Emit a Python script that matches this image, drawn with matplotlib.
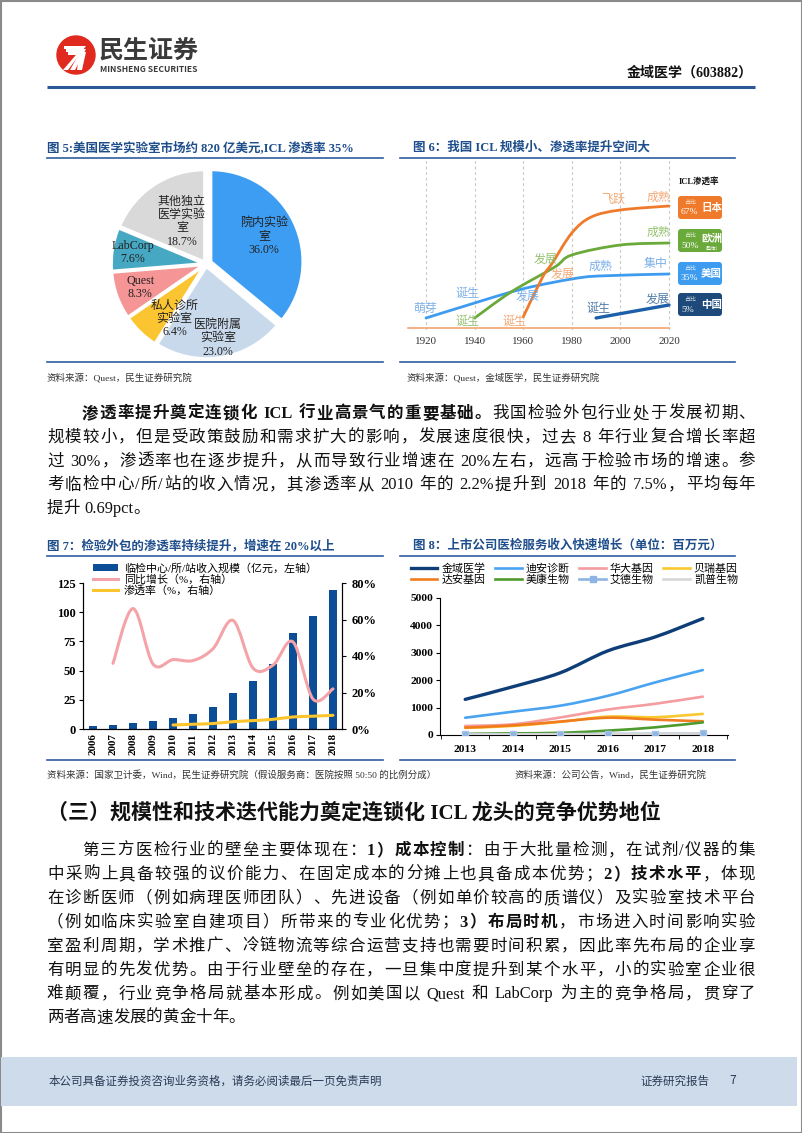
import matplotlib
matplotlib.use("Agg")
import matplotlib.pyplot as plt
import numpy as np
from matplotlib.lines import Line2D
from matplotlib.patches import Circle, FancyBboxPatch, PathPatch, Polygon, Rectangle
from matplotlib.path import Path

W, H = 802, 1133
SERIF = ["Liberation Serif", "Noto Sans CJK SC"]
SANS = ["Noto Sans CJK SC", "DejaVu Sans"]
TITLE_BLUE = "#1f4e8c"
RULE_BLUE = "#2e5c9e"
TEXT = "#111111"

# ---- 图5: US lab market split (%)
lab_names = ["院内实验\n室", "医院附属\n实验室", "私人诊所\n实验室", "Quest", "LabCorp", "其他独立\n医学实验\n室"]
lab_share = [36.0, 23.0, 6.4, 8.3, 7.6, 18.7]
lab_colors = ["#3d9df3", "#c9d9ec", "#fbc531", "#f59595", "#47a8c4", "#d9d9d9"]

# ---- 图6: schematic ICL development curves (year, relative level)
icl_years = [1920, 1940, 1960, 1980, 2000, 2020]
us_x = [1920, 1940, 1955, 1965, 1980, 1991, 2020]
us_y = [12, 27, 38, 44, 51, 54, 56]
eu_x = [1940, 1955, 1973, 1980, 2000, 2020]
eu_y = [12, 38, 63, 75, 85, 87]
jp_x = [1960, 1968, 1972, 1980, 1988, 2000, 2020]
jp_y = [13, 53, 67, 97, 113, 120, 124]
cn_x = [1990, 2020]
cn_y = [12, 25]
stage_notes = [
    ("萌芽", 1919.6, 22, "#6fa8e6"), ("诞生", 1937, 37, "#6fa8e6"), ("发展", 1962, 34, "#6fa8e6"),
    ("成熟", 1992, 64, "#6fa8e6"), ("集中", 2014.7, 67, "#6fa8e6"),
    ("诞生", 1937, 9, "#8dbd63"), ("发展", 1969.4, 71, "#8dbd63"), ("成熟", 2015.5, 98, "#8dbd63"),
    ("诞生", 1956.6, 9, "#f3a06a"), ("发展", 1976.4, 56, "#f3a06a"), ("飞跃", 1997, 131, "#f3a06a"),
    ("成熟", 2015.5, 133, "#f3a06a"),
    ("诞生", 1991, 22, "#3f6f9f"), ("发展", 2015.5, 31, "#3f6f9f"),
]
pen_regions = ["日本", "欧洲", "美国", "中国"]
pen_shares = ["67%", "50%", "35%", "5%"]
pen_colors = ["#f07a2b", "#6aaa3a", "#3d9cf0", "#1d4a7a"]

# ---- 图7: ICL revenue (亿元), yoy growth (%), penetration (%)
years07 = ["2006", "2007", "2008", "2009", "2010", "2011", "2012",
           "2013", "2014", "2015", "2016", "2017", "2018"]
icl_revenue = [2.3, 3.0, 5.0, 6.6, 9.4, 13.0, 19.0, 30.6, 41.0, 56.0, 82.0, 97.0, 119.0]
yoy_growth = [np.nan, 36.0, 66.0, 35.6, 38.0, 37.5, 44.0, 59.5, 33.4, 35.0, 47.7, 16.4, 22.0]
penetration = [np.nan, np.nan, np.nan, np.nan, 2.2, 2.6, 3.0, 4.0, 4.6, 5.3, 6.6, 7.0, 7.5]

# ---- 图8: listed companies' lab-service revenue (百万元)
years08 = ["2013", "2014", "2015", "2016", "2017", "2018"]
company_names = ["金域医学", "迪安诊断", "华大基因", "贝瑞基因", "达安基因", "美康生物", "艾德生物", "凯普生物"]
company_rev = [
    [1300, 1760, 2270, 3070, 3580, 4250],
    [630, 850, 1070, 1430, 1920, 2370],
    [330, 390, 640, 930, 1140, 1400],
    [260, 330, 480, 670, 650, 770],
    [270, 350, 490, 630, 560, 500],
    [40, 60, 80, 160, 280, 460],
    [25, 28, 32, 38, 42, 55],
    [15, 20, 25, 30, 40, 60],
]
company_colors = ["#0e3d78", "#4aa3f0", "#f59ca0", "#f9c82e", "#f07c20", "#4e9a2e", "#8eb4e3", "#d6d6d6"]

para1 = [
    [("渗透率提升奠定连锁化 ICL 行业高景气的重要基础。", True), ("我国检验外包行业处于发展初期、", False)],
    [("规模较小，但是受政策鼓励和需求扩大的影响，发展速度很快，过去 8 年行业复合增长率超", False)],
    [("过 30%，渗透率也在逐步提升，从而导致行业增速在 20%左右，远高于检验市场的增速。参", False)],
    [("考临检中心/所/站的收入情况，其渗透率从 2010 年的 2.2%提升到 2018 年的 7.5%，平均每年", False)],
    [("提升 0.69pct。", False)],
]
para2 = [
    [("第三方医检行业的壁垒主要体现在：", False), ("1）成本控制", True), ("：由于大批量检测，在试剂/仪器的集", False)],
    [("中采购上具备较强的议价能力、在固定成本的分摊上也具备成本优势；", False), ("2）技术水平", True), ("，体现", False)],
    [("在诊断医师（例如病理医师团队）、先进设备（例如单价较高的质谱仪）及实验室技术平台", False)],
    [("（例如临床实验室自建项目）所带来的专业化优势；", False), ("3）布局时机", True), ("，市场进入时间影响实验", False)],
    [("室盈利周期，学术推广、冷链物流等综合运营支持也需要时间积累，因此率先布局的企业享", False)],
    [("有明显的先发优势。由于行业壁垒的存在，一旦集中度提升到某个水平，小的实验室企业很", False)],
    [("难颠覆，行业竞争格局就基本形成。例如美国以 Quest 和 LabCorp 为主的竞争格局，贯穿了", False)],
    [("两者高速发展的黄金十年。", False)],
]


def pt(px):
    return px * 0.72


def px_axes(x0, y0, x1, y1):
    ax = fig.add_axes([x0 / W, 1 - y1 / H, (x1 - x0) / W, (y1 - y0) / H])
    ax.set_facecolor("none")
    return ax


def smooth_path(xs, ys, k=1 / 6):
    pts = np.column_stack([xs, ys]).astype(float)
    verts, codes = [pts[0]], [Path.MOVETO]
    for i in range(len(pts) - 1):
        p0 = pts[i - 1] if i > 0 else pts[i]
        p1, p2 = pts[i], pts[i + 1]
        p3 = pts[i + 2] if i + 2 < len(pts) else pts[i + 1]
        verts += [p1 + (p2 - p0) * k, p2 - (p3 - p1) * k, p2]
        codes += [Path.CURVE4] * 3
    return Path(verts, codes)


def smooth_line(ax, xs, ys, color, lw, zorder=3):
    xs, ys = np.asarray(xs, float), np.asarray(ys, float)
    ok = ~np.isnan(ys)
    ax.add_patch(PathPatch(smooth_path(xs[ok], ys[ok]), fill=False, edgecolor=color,
                           lw=lw, capstyle="round", joinstyle="round", zorder=zorder))


fig = plt.figure(figsize=(W / 100, H / 100), dpi=100)
page = fig.add_axes([0, 0, 1, 1])
page.set_xlim(0, W)
page.set_ylim(H, 0)
page.axis("off")
renderer = fig.canvas.get_renderer()


def tokenize(segments):
    toks = []
    for text, bold in segments:
        buf = ""
        for ch in text:
            if ch == " ":
                if buf:
                    toks.append((buf, bold))
                    buf = ""
                toks.append((" ", bold))
            elif ord(ch) < 128:
                buf += ch
            else:
                if buf:
                    toks.append((buf, bold))
                    buf = ""
                toks.append((ch, bold))
        if buf:
            toks.append((buf, bold))
    return toks


def text_line(x0, y, segments, size_px, right=None, color=TEXT):
    toks = tokenize(segments)
    items = []
    for s, bold in toks:
        if s == " ":
            items.append((None, size_px * 0.25))
            continue
        t = page.text(0, y, s, fontsize=pt(size_px), fontweight="bold" if bold else "normal",
                      family=SERIF, va="baseline", ha="left", color=color)
        items.append((t, t.get_window_extent(renderer).width))
    gap = 0.0
    if right is not None and len(items) > 1:
        gap = (right - x0 - sum(w for _, w in items)) / (len(items) - 1)
    x = x0
    for t, w in items:
        if t is not None:
            t.set_x(x)
        x += w + gap


# ---------------- page frame, header, footer
page.add_patch(Rectangle((0.5, 0.5), W - 1, H - 1, fill=False, ec="#8a8a8a", lw=1.5))
page.add_patch(Circle((76, 55), 19, color="#e02a1f"))
for i in range(3):
    page.add_patch(Polygon([(63 + 7 * i, 70), (68 + 7 * i, 70), (86, 46 + 3 * i), (64 + 2 * i, 46 + 3 * i),
                            (64 + 2 * i, 49 + 3 * i), (81 - i, 49 + 3 * i)], closed=True, color="white", lw=0))
page.text(99, 51, "民生证券", fontsize=pt(25), fontweight="bold", family=SANS, color="#3a3a3a", va="center")
page.text(100, 69, "MINSHENG SECURITIES", fontsize=pt(8.5), fontweight="bold", family=SANS,
          color="#3a3a3a", va="center")
page.text(753, 73, "金域医学（603882）", fontsize=pt(14), fontweight="bold", family=SERIF, color=TEXT,
          ha="right", va="center")
page.plot([47, 755], [86.5, 86.5], color="#2b5797", lw=2.2, solid_capstyle="butt")

page.add_patch(Rectangle((1, 1057), W - 6, 49, color="#cddbeb", lw=0))
page.text(49, 1081, "本公司具备证券投资咨询业务资格，请务必阅读最后一页免责声明", fontsize=pt(11.5),
          family=SANS, color="#2b3b55", va="center")
page.text(640, 1081, "证券研究报告", fontsize=pt(11.5), family=SANS, color="#2b3b55", va="center")
page.text(729, 1081, "7", fontsize=pt(12), family=SANS, color="#2b3b55", va="center")


# ---------------- figure titles / rules / sources
def fig_frame(x0, x1, ytitle, yrule, ybottom, ysrc, title, source, src_x=None):
    page.text(x0 + (0 if x0 < 100 else 13), ytitle, title, fontsize=pt(12.5), fontweight="bold", family=SERIF,
              color=TITLE_BLUE, va="center")
    page.plot([x0, x1], [yrule, yrule], color=RULE_BLUE, lw=1.2)
    page.plot([x0, x1], [ybottom, ybottom], color=RULE_BLUE, lw=1.2)
    page.text(src_x if src_x else x0, ysrc, source, fontsize=pt(9.5), family=SERIF, color="#333333",
              va="center")


fig_frame(47, 383, 148, 158, 362, 378, "图 5:美国医学实验室市场约 820 亿美元,ICL 渗透率 35%",
          "资料来源：Quest，民生证券研究院")
fig_frame(400, 735, 148, 158, 362, 378, "图 6：我国 ICL 规模小、渗透率提升空间大",
          "资料来源：Quest，金域医学，民生证券研究院", src_x=407)
fig_frame(47, 383, 546, 556, 760, 775, "图 7：检验外包的渗透率持续提升，增速在 20%以上",
          "资料来源：国家卫计委，Wind，民生证券研究院（假设服务商：医院按照 50:50 的比例分成）")
fig_frame(400, 735, 546, 556, 760, 775, "图 8：上市公司医检服务收入快速增长（单位：百万元）",
          "资料来源：公司公告，Wind，民生证券研究院", src_x=515)

# ---------------- body text
for i, line in enumerate(para1):
    x0 = 82 if i == 0 else 47
    right = 755 if i < len(para1) - 1 else None
    text_line(x0, 418 + i * 23.8, line, 16.5, right)

page.text(47, 813, "（三）规模性和技术迭代能力奠定连锁化 ICL 龙头的竞争优势地位", fontsize=pt(21),
          fontweight="bold", family=SERIF, color=TEXT, va="center")

for i, line in enumerate(para2):
    x0 = 82 if i == 0 else 47
    right = 755 if i < len(para2) - 1 else None
    text_line(x0, 855 + i * 23.9, line, 16.5, right)

# ---------------- 图5 pie
ax5 = px_axes(105, 163, 307, 365)
wedges, _ = ax5.pie(lab_share, colors=lab_colors, startangle=90, counterclock=False,
                    explode=[0.06, 0.03, 0.03, 0.03, 0.03, 0.03],
                    wedgeprops=dict(edgecolor="white", linewidth=2))
ax5.set_xlim(-1.1, 1.1)
ax5.set_ylim(-1.1, 1.1)
ax5.set_aspect("equal")
label_r = [0.70, 0.82, 0.69, 0.76, 0.81, 0.53]
label_nudge = [0, 0, 14, 0, 0, -4]
start = 90.0
for name, share, r, nd in zip(lab_names, lab_share, label_r, label_nudge):
    mid = np.deg2rad(start - share * 3.6 / 2 + nd)
    start -= share * 3.6
    ax5.text(r * np.cos(mid), r * np.sin(mid), f"{name}\n{share:.1f}%", ha="center", va="center",
             fontsize=pt(12), family=SERIF, color="#222222", linespacing=1.15)

# ---------------- 图6 schematic
ax6 = px_axes(400, 160, 672, 330)
px_per_year = 2.43
ax6.set_xlim(1920 - 26 / px_per_year, 2020 + 3 / px_per_year)
ax6.set_ylim(0, 170)
for s in ["left", "right", "top"]:
    ax6.spines[s].set_visible(False)
ax6.spines["bottom"].set_position(("data", 2))
ax6.spines["bottom"].set_bounds(1920 - 18 / px_per_year, 2020)
ax6.spines["bottom"].set_color("#f4a46e")
ax6.spines["bottom"].set_linewidth(1.2)
ax6.set_yticks([])
ax6.set_xticks(icl_years)
ax6.set_xticklabels([str(y) for y in icl_years], fontsize=pt(11), family=SERIF, color="#333333")
ax6.tick_params(axis="x", length=0, pad=pt(9))
ax6.grid(axis="x", color="#c8c8c8", lw=0.8, ls=(0, (2.5, 2.5)))
ax6.set_axisbelow(True)
smooth_line(ax6, us_x, us_y, "#3d9cf0", 2.0)
smooth_line(ax6, eu_x, eu_y, "#6aaa3a", 2.0)
smooth_line(ax6, jp_x, jp_y, "#f07a2b", 2.0)
smooth_line(ax6, cn_x, cn_y, "#1d5fa8", 2.4)
for txt, xx, yy, c in stage_notes:
    ax6.text(xx, yy, txt, fontsize=pt(12), family=SANS, color=c, ha="center", va="center", alpha=0.9)

page.text(679, 181, "ICL渗透率", fontsize=pt(8.5), fontweight="bold", family=SERIF, color="#111111",
          va="center")
box_tops = [196, 229, 262, 293]
for top, region, share, c in zip(box_tops, pen_regions, pen_shares, pen_colors):
    page.add_patch(FancyBboxPatch((680, top + 2), 40, 19, boxstyle="round,pad=2,rounding_size=3",
                                  fc=c, ec="none"))
    page.text(684, top + 6.5, "占比", fontsize=pt(6), family=SANS, color="white", va="center", alpha=0.85)
    page.text(681, top + 16.5, share, fontsize=pt(9.5), family=SERIF, color="white", va="center")
    page.text(711.5, top + (10 if region == "欧洲" else 12), region, fontsize=pt(10.5), fontweight="bold",
              family=SANS, color="white", ha="center", va="center")
    if region == "欧洲":
        page.text(711.5, top + 19, "（整体）", fontsize=pt(4.5), family=SANS, color="white", ha="center",
                  va="center")

# ---------------- 图7 bars + lines
ax7 = px_axes(83, 583, 342, 729)
x7 = np.arange(len(years07))
ax7.bar(x7, icl_revenue, width=0.42, color="#0b4d96", zorder=2)
ax7.set_xlim(-0.5, len(years07) - 0.55)
ax7.set_ylim(0, 125)
ax7.set_yticks(range(0, 126, 25))
ax7.set_xticks(x7)
ax7.set_xticklabels(years07, rotation=90, fontsize=pt(11), fontweight="bold", family=SERIF)
ax7.spines["top"].set_visible(False)
ax7.tick_params(axis="y", direction="out", length=3, labelsize=pt(12.5), pad=2)
ax7.tick_params(axis="x", length=0, pad=3)
for lab in ax7.get_yticklabels():
    lab.set_fontweight("bold")
    lab.set_family(SERIF)
ax7r = ax7.twinx()
ax7r.set_ylim(0, 80)
ax7r.set_yticks(range(0, 81, 20))
ax7r.set_yticklabels([f"{v}%" for v in range(0, 81, 20)], fontsize=pt(12.5), fontweight="bold", family=SERIF)
ax7r.tick_params(axis="y", direction="out", length=3, pad=4)
ax7r.spines["top"].set_visible(False)
smooth_line(ax7r, x7, yoy_growth, "#f4a3a8", 2.2)
smooth_line(ax7r, x7, penetration, "#fcc52e", 2.2)
h7 = [Rectangle((0, 0), 1, 1, fc="#0b4d96"),
      Line2D([], [], color="#f4a3a8", lw=2.2),
      Line2D([], [], color="#fcc52e", lw=2.2)]
ax7r.legend(h7, ["临检中心/所/站收入规模（亿元，左轴）", "同比增长（%，右轴）", "渗透率（%，右轴）"],
            loc="upper left", bbox_to_anchor=(93 / W, 1 - 563 / H), bbox_transform=fig.transFigure,
            frameon=False, prop={"family": SERIF, "size": pt(11)}, handlelength=2.3, handleheight=0.55,
            handletextpad=0.5, labelspacing=0.05, borderpad=0, borderaxespad=0)

# ---------------- 图8 lines
ax8 = px_axes(440, 598, 728, 735)
x8 = np.arange(len(years08))
handles8 = []
for name, vals, c in zip(company_names, company_rev, company_colors):
    lw = 2.4 if name == "金域医学" else 1.9
    smooth_line(ax8, x8, vals, c, lw)
    if name == "艾德生物":
        ax8.plot(x8, vals, "s", color=c, ms=5, mec="#a9c4e8", zorder=4)
        handles8.append(Line2D([], [], color=c, lw=lw, marker="s", ms=5))
    else:
        handles8.append(Line2D([], [], color=c, lw=lw))
ax8.set_xlim(-0.53, len(years08) - 0.47)
ax8.set_ylim(0, 5000)
ax8.set_yticks(range(0, 5001, 1000))
ax8.set_xticks(x8)
ax8.set_xticklabels(years08, fontsize=pt(11.5), fontweight="bold", family=SERIF)
ax8.set_xticks(np.arange(-0.5, len(years08)), minor=True)
ax8.tick_params(axis="x", which="major", length=0, pad=7)
ax8.tick_params(axis="x", which="minor", length=3, direction="out")
ax8.tick_params(axis="y", direction="out", length=3, labelsize=pt(11.5), pad=2)
for lab in ax8.get_yticklabels():
    lab.set_fontweight("bold")
    lab.set_family(SERIF)
ax8.spines["top"].set_visible(False)
ax8.spines["right"].set_visible(False)
order = [0, 4, 1, 5, 2, 6, 3, 7]
ax8.legend([handles8[i] for i in order], [company_names[i] for i in order], ncol=4,
           loc="upper left", bbox_to_anchor=(411 / W, 1 - 563 / H), bbox_transform=fig.transFigure,
           frameon=False, prop={"family": SERIF, "size": pt(11)}, handlelength=2.4,
           handletextpad=0.35, columnspacing=0.9, labelspacing=0.1, borderpad=0, borderaxespad=0)

fig.savefig("out.png", dpi=100)
